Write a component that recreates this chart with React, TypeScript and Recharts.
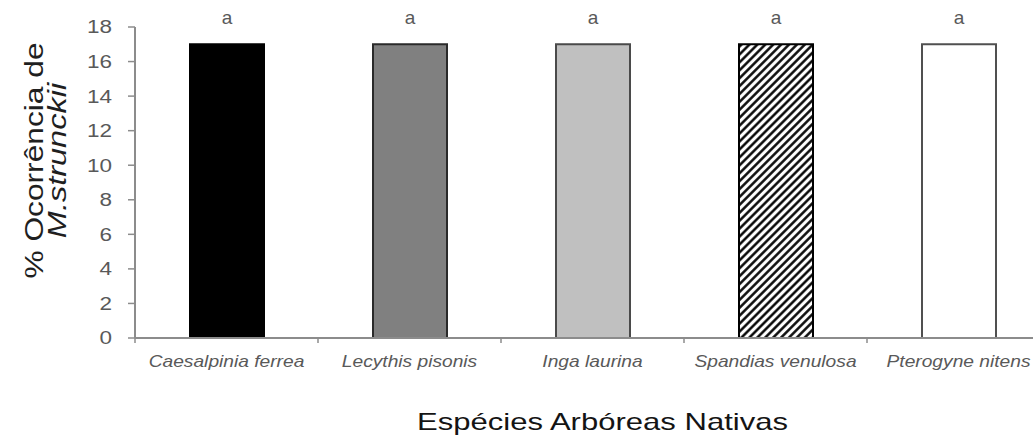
import { BarChart, Bar, XAxis, YAxis, Cell, LabelList } from 'recharts';

const categories = [
  'Caesalpinia ferrea',
  'Lecythis pisonis',
  'Inga laurina',
  'Spandias venulosa',
  'Pterogyne nitens',
];
const occurrence = [17, 17, 17, 17, 17];
const letters = ['a', 'a', 'a', 'a', 'a'];
const yTicks = [0, 2, 4, 6, 8, 10, 12, 14, 16, 18];

const barStyles = [
  { fill: '#000000', stroke: '#000000' },
  { fill: '#808080', stroke: '#2a2a2a' },
  { fill: '#c0c0c0', stroke: '#4a4a4a' },
  { fill: 'url(#hatch)', stroke: '#000000' },
  { fill: '#ffffff', stroke: '#505050' },
];

const data = categories.map((name, i) => ({
  name,
  value: occurrence[i],
  letter: letters[i],
}));

const FONT = '"Liberation Sans", Arial, sans-serif';
const GRAY = '#595959';
const AXIS = '#8c8c8c';

// label centred on the category, tick marks on the category edges
function XTick({ x, y, payload, width, visibleTicksCount, index }: any) {
  const half = width && visibleTicksCount ? width / visibleTicksCount / 2 : 0;
  return (
    <g>
      {half > 0 && index === 0 && (
        <line x1={x - half} y1={y} x2={x - half} y2={y + 5} stroke={AXIS} strokeWidth={1.5} />
      )}
      {half > 0 && (
        <line x1={x + half} y1={y} x2={x + half} y2={y + 5} stroke={AXIS} strokeWidth={1.5} />
      )}
      <g transform={`translate(${x},${y + 29}) scale(1.2,1)`}>
        <text textAnchor="middle" fontFamily={FONT} fontStyle="italic" fontSize={16} fill={GRAY}>
          {payload.value}
        </text>
      </g>
    </g>
  );
}

function YTick({ x, y, payload }: any) {
  return (
    <g transform={`translate(${x},${y}) scale(1.25,1)`}>
      <text textAnchor="end" dy="0.36em" fontFamily={FONT} fontSize={18} fill={GRAY}>
        {payload.value}
      </text>
    </g>
  );
}

function YTitle({ viewBox }: any) {
  const cy = viewBox.y + viewBox.height / 2 - 22;
  return (
    <g fontFamily={FONT} fontSize={26} fill="#1f1f1f">
      <text transform={`translate(43,${cy}) rotate(-90) scale(1.22,1)`} textAnchor="middle">
        % Ocorrência de
      </text>
      <text
        transform={`translate(66,${cy}) rotate(-90) scale(1.25,1)`}
        textAnchor="middle"
        fontStyle="italic"
      >
        M.strunckii
      </text>
    </g>
  );
}

function XTitle({ viewBox }: any) {
  const cx = viewBox.x + viewBox.width / 2 + 10;
  return (
    <g transform={`translate(${cx},${viewBox.y + 92}) scale(1.35,1)`}>
      <text textAnchor="middle" fontFamily={FONT} fontSize={23} fill="#141414">
        Espécies Arbóreas Nativas
      </text>
    </g>
  );
}

export default function App() {
  return (
    <div
      style={{
        position: 'absolute',
        left: 0,
        top: 0,
        width: 1033,
        height: 438,
        overflow: 'hidden',
        background: '#fff',
      }}
    >
      <svg width={0} height={0} style={{ position: 'absolute' }}>
        <defs>
          <pattern
            id="hatch"
            patternUnits="userSpaceOnUse"
            width={5.6}
            height={5.6}
            patternTransform="rotate(45)"
          >
            <rect width={5.6} height={5.6} fill="#ffffff" />
            <line x1={1.4} y1={0} x2={1.4} y2={5.6} stroke="#000000" strokeWidth={2.4} />
          </pattern>
        </defs>
      </svg>
      <BarChart
        width={1060}
        height={438}
        data={data}
        margin={{ top: 27, right: 10, left: 75, bottom: 0 }}
      >
        <XAxis
          dataKey="name"
          height={100}
          axisLine={{ stroke: AXIS, strokeWidth: 2 }}
          tickLine={false}
          tickSize={0}
          tickMargin={0}
          tick={<XTick />}
          interval={0}
          label={{ content: XTitle }}
        />
        <YAxis
          width={60}
          domain={[0, 18]}
          ticks={yTicks}
          interval={0}
          axisLine={{ stroke: AXIS, strokeWidth: 2 }}
          tickLine={{ stroke: AXIS, strokeWidth: 1.5 }}
          tickSize={7}
          tickMargin={16}
          tick={<YTick />}
          label={{ content: YTitle }}
        />
        <Bar dataKey="value" barSize={74} strokeWidth={2} isAnimationActive={false}>
          {data.map((d, i) => (
            <Cell key={d.name} fill={barStyles[i].fill} stroke={barStyles[i].stroke} />
          ))}
          <LabelList
            dataKey="letter"
            position="top"
            offset={20}
            fill={GRAY}
            fontSize={19}
            fontFamily={FONT}
          />
        </Bar>
      </BarChart>
    </div>
  );
}
